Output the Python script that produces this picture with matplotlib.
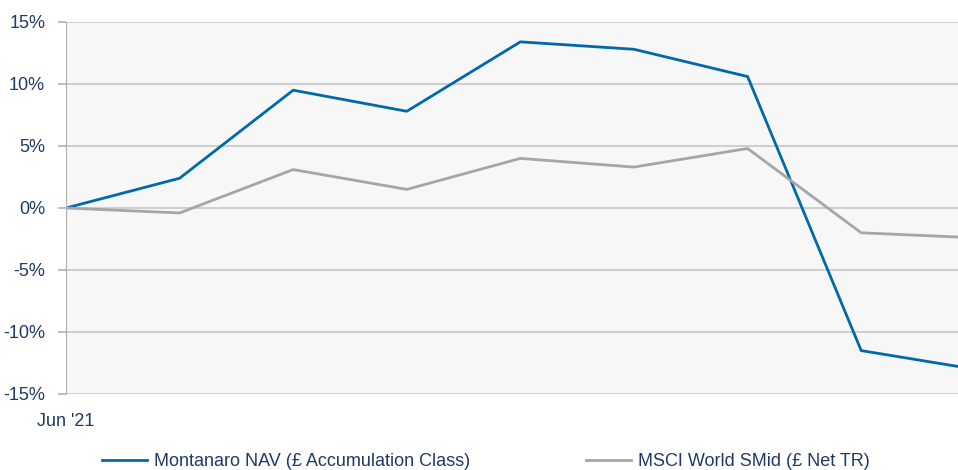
import numpy as np
import matplotlib
matplotlib.use('agg')
import matplotlib.pyplot as plt
from matplotlib.ticker import FuncFormatter

# DATA
months = ["Jun '21", "Jul '21", "Aug '21", "Sep '21", "Oct '21", "Nov '21", "Dec '21", "Jan '22", "Feb '22"]
montanaro = [0.0, 2.4, 9.5, 7.8, 13.4, 12.8, 10.6, -11.5, -13.0]
msci = [0.0, -0.4, 3.1, 1.5, 4.0, 3.3, 4.8, -2.0, -2.4]
yticks = [-15, -10, -5, 0, 5, 10, 15]

navy = '#1f3a66'
blue = '#0069aa'
grey = '#a6a6a6'

plt.rcParams['font.family'] = ['Liberation Sans Narrow', 'Liberation Sans', 'DejaVu Sans']

fig = plt.figure(figsize=(9.58, 4.70), dpi=100)
ax = fig.add_axes([66/958, 1 - 394/470, 1 - 66/958, (394 - 22)/470])
ax.set_facecolor('#f7f7f7')

x = np.arange(len(months))
l1, = ax.plot(x, montanaro, color=blue, lw=2.0, label='Montanaro NAV (£ Accumulation Class)')
l2, = ax.plot(x, msci, color=grey, lw=2.0, label='MSCI World SMid (£ Net TR)')

ax.set_ylim(-15, 15)
ax.set_xlim(0, (958 - 66) / 113.6)
ax.set_yticks(yticks)
ax.yaxis.set_major_formatter(FuncFormatter(lambda v, p: '%d%%' % v))
ax.set_xticks([0])
ax.set_xticklabels([months[0]])
ax.grid(axis='y', color='#c8c8c8', lw=1.2)
ax.set_axisbelow(True)
for s in ['top', 'right', 'bottom']:
    ax.spines[s].set_visible(False)
ax.spines['left'].set_color('#b0b0b0')
ax.tick_params(axis='y', colors='#b0b0b0', labelcolor=navy, labelsize=13, length=6, width=1.2, pad=9)
ax.tick_params(axis='x', length=0, labelcolor=navy, labelsize=13, pad=14)

fig.legend(handles=[l1, l2], loc='center', bbox_to_anchor=(0.507, 0.018), ncol=2,
           frameon=False, fontsize=13, labelcolor=navy, handlelength=2.5,
           handletextpad=0.4, columnspacing=6.4)

fig.savefig('out.png', dpi=100)
